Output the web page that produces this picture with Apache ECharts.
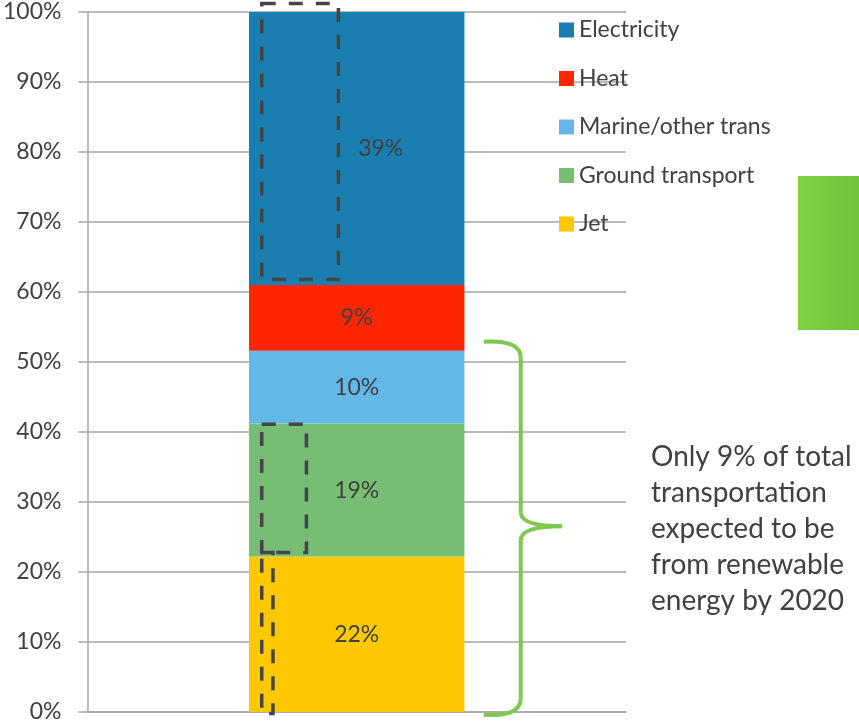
<!DOCTYPE html>
<html>
<head>
<meta charset="utf-8">
<script src="https://cdn.jsdelivr.net/npm/echarts@6/dist/echarts.min.js"></script>
<style>
html,body{margin:0;padding:0;background:#fff;}
#main{width:859px;height:726px;}
</style>
</head>
<body>
<div id="main"></div>
<script>
var categories = ['2020'];
var seriesNames = ['Jet', 'Ground transport', 'Marine/other trans', 'Heat', 'Electricity'];
var jet = [22.2];
var ground = [19.0];
var marine = [10.4];
var heat = [9.4];
var electricity = [39.0];
var yMin = 0, yMax = 100, yStep = 10;
// dashed boxes (renewable part): value ranges and share of the bar width
var dashLow = [61.8, 22.8, -0.2];
var dashHigh = [101.2, 41.1, 22.8];
var dashShare = [0.355, 0.207, 0.052];
var note = 'Only 9% of total\ntransportation\nexpected to be\nfrom renewable\nenergy by 2020';

var colors = ['#ffc800', '#77bd73', '#64b8e9', '#ff2600', '#1a7eb1'];
var values = [jet, ground, marine, heat, electricity];
var fontName = 'Lato';
var txt = '#404040';
var gridL = 86, gridR = 233;

var myChart = echarts.init(document.getElementById('main'));

var series = [];
for (var i = 0; i < seriesNames.length; i++) {
	series.push({
		name: seriesNames[i],
		type: 'bar',
		stack: 'total',
		barWidth: '40%',
		data: values[i],
		itemStyle: { color: colors[i] },
		label: {
			show: true,
			position: 'inside',
			offset: i == 4 ? [24, 0] : [0, 0],
			color: txt,
			fontSize: 23,
			fontFamily: fontName,
			formatter: function(p){ return Math.round(p.value) + '%'; }
		}
	});
}

var option = {
	animation: false,
	color: colors,
	grid: { left: gridL, right: gridR, top: 12, bottom: 14 },
	legend: {
		orient: 'vertical',
		left: 559,
		top: 18,
		padding: 0,
		itemGap: 24.5,
		itemWidth: 15,
		itemHeight: 15,
		icon: 'rect',
		data: ['Electricity', 'Heat', 'Marine/other trans', 'Ground transport', 'Jet'],
		textStyle: { color: txt, fontSize: 23, fontFamily: fontName, lineHeight: 24 }
	},
	xAxis: {
		type: 'category',
		data: categories,
		axisLine: { lineStyle: { color: '#a6a6a6', width: 1.5 } },
		axisTick: { show: false },
		axisLabel: { show: false }
	},
	yAxis: {
		type: 'value',
		min: yMin,
		max: yMax,
		interval: yStep,
		axisLine: { show: true, lineStyle: { color: '#a6a6a6', width: 1.5 } },
		axisTick: { show: true, length: 9, lineStyle: { color: '#a6a6a6', width: 1.5 } },
		splitLine: { lineStyle: { color: '#a6a6a6', width: 1.5 } },
		axisLabel: { formatter: '{value}%', margin: 26, color: txt, fontSize: 23, fontFamily: fontName }
	},
	series: series
};

myChart.setOption(option);

// annotations placed from the axes
var barMid = myChart.convertToPixel({ xAxisIndex: 0 }, 0);
var barW = (myChart.getWidth() - gridL - gridR) / categories.length * 0.4;
var barLeft = barMid - barW / 2, barRight = barMid + barW / 2;
function yPix(v){ return myChart.convertToPixel({ yAxisIndex: 0 }, v); }

var graphic = [];
for (var j = 0; j < dashLow.length; j++) {
	var boxTop = yPix(dashHigh[j]);
	graphic.push({
		type: 'rect',
		z: 100,
		shape: { x: barLeft + 13, y: boxTop, width: barW * dashShare[j], height: yPix(dashLow[j]) - boxTop },
		style: { fill: 'none', stroke: '#454545', lineWidth: 3.5, lineDash: [14, 13] }
	});
}

// curly brace beside the transport segments
var transport = jet[0] + ground[0] + marine[0];
var bt = yPix(transport + 1.3), bb = yPix(-0.4), bm = (bt + bb) / 2 - 2;
var x0 = barRight + 19, x1 = barRight + 56, x2 = barRight + 97;
var braceStyle = { fill: 'none', stroke: '#7ec850', lineWidth: 4 };
var braceParts = [
	{ type: 'bezierCurve', shape: { x1: x0, y1: bt, cpx1: x1, cpy1: bt - 2, x2: x1, y2: bt + 16 } },
	{ type: 'line', shape: { x1: x1, y1: bt + 16, x2: x1, y2: bm - 14 } },
	{ type: 'bezierCurve', shape: { x1: x1, y1: bm - 14, cpx1: x1, cpy1: bm, x2: x2, y2: bm } },
	{ type: 'bezierCurve', shape: { x1: x2, y1: bm, cpx1: x1, cpy1: bm, x2: x1, y2: bm + 14 } },
	{ type: 'line', shape: { x1: x1, y1: bm + 14, x2: x1, y2: bb - 16 } },
	{ type: 'bezierCurve', shape: { x1: x1, y1: bb - 16, cpx1: x1, cpy1: bb + 2, x2: x0, y2: bb } }
];
braceParts.forEach(function(p){
	p.z = 100;
	p.style = braceStyle;
	graphic.push(p);
});

graphic.push({
	type: 'rect',
	shape: { x: 798, y: 176, width: 70, height: 154 },
	style: {
		fill: { type: 'linear', x: 0, y: 0, x2: 1, y2: 0,
			colorStops: [{ offset: 0, color: '#7ed23f' }, { offset: 1, color: '#70c03a' }] }
	}
});

graphic.push({
	type: 'text',
	x: 651,
	y: 439,
	style: { text: note, fill: txt, font: '28px Lato', lineHeight: 36 }
});

myChart.setOption({ graphic: graphic });
</script>
</body>
</html>
